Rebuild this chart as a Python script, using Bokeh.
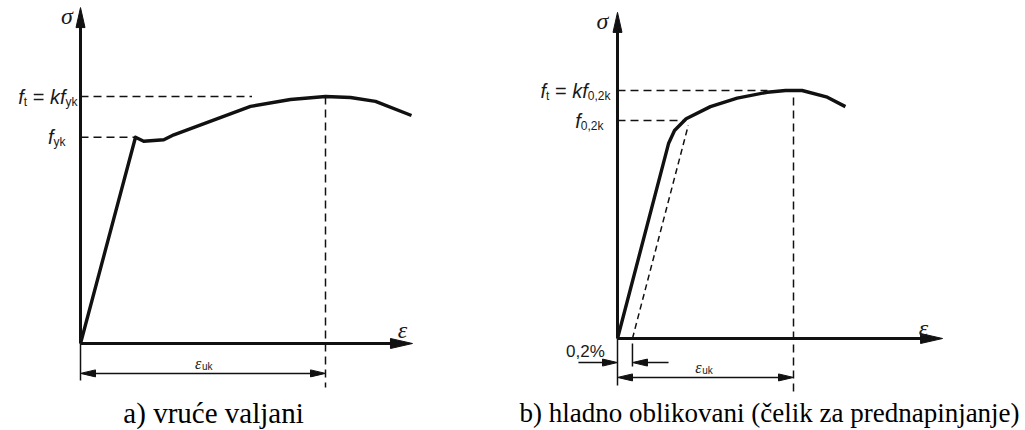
from bokeh.plotting import figure
from bokeh.layouts import row
from bokeh.models import Range1d
from bokeh.core.properties import value
from bokeh.embed import file_html
from bokeh.resources import INLINE

# ---------------- data (schematic, normalised: eps_uk = 1, f_t = 1) ----------------
# a) hot rolled steel
a_strain = [0.0, 0.2245, 0.258, 0.340, 0.381, 0.694, 0.857, 1.0, 1.102, 1.204, 1.351]
a_stress = [0.0, 0.835, 0.819, 0.825, 0.845, 0.960, 0.988, 1.0, 0.996, 0.980, 0.923]
a_fyk = 0.835
a_ft = 1.0
a_euk = 1.0

# b) cold worked steel
b_strain = [0.0, 0.290, 0.324, 0.390, 0.528, 0.680, 0.851, 0.955, 1.049, 1.192, 1.295]
b_stress = [0.0, 0.786, 0.839, 0.886, 0.935, 0.969, 0.993, 1.0, 1.0, 0.973, 0.935]
b_f02k = 0.879
b_ft = 1.0
b_euk = 1.0
b_offset = 0.085   # 0,2 % offset (schematic)

captions = ["a) vruće valjani", "b) hladno oblikovani (čelik za prednapinjanje)"]

# ---------------- styling helpers ----------------
INK = "#111111"
TXT = "#1a1a1a"
H = 430

ARIAL = {'f': .278, 't': .278, ' ': .278, '=': .584, 'k': .5, 'y': .5, '0': .556,
         ',': .278, '2': .556, '%': .889, 'u': .556}


def make_fig(w, xr, yr):
    p = figure(width=w, height=H, x_range=Range1d(*xr), y_range=Range1d(*yr),
               output_backend="svg", toolbar_location=None,
               x_axis_type=None, y_axis_type=None, min_border=0)
    p.min_border_left = p.min_border_right = p.min_border_top = p.min_border_bottom = 0
    p.grid.visible = False
    p.outline_line_color = None
    p.title.visible = False
    p.background_fill_color = "white"
    p.border_fill_color = "white"
    p._sx = w / (xr[1] - xr[0])
    p._sy = H / (yr[1] - yr[0])
    return p


def head(p, xt, yt, dx, dy, L, W):
    """filled arrow head; tip at data point, direction (dx, dy) in screen px (y up)."""
    n = (dx * dx + dy * dy) ** 0.5
    ux, uy = dx / n, dy / n
    px, py = -uy, ux
    bx, by = -ux * L, -uy * L
    xs = [xt, xt + (bx + px * W / 2) / p._sx, xt + (bx - px * W / 2) / p._sx]
    ys = [yt, yt + (by + py * W / 2) / p._sy, yt + (by - py * W / 2) / p._sy]
    p.patch(xs, ys, fill_color=INK, line_color=INK, line_width=1)


def arrow(p, x0, y0, x1, y1, L, W, lw, both=False):
    dxp = (x1 - x0) * p._sx
    dyp = (y1 - y0) * p._sy
    n = (dxp * dxp + dyp * dyp) ** 0.5
    sh = 0.5 * L / n
    xa = x0 + (x1 - x0) * (sh if both else 0)
    ya = y0 + (y1 - y0) * (sh if both else 0)
    xb = x1 - (x1 - x0) * sh
    yb = y1 - (y1 - y0) * sh
    p.line([xa, xb], [ya, yb], line_color=INK, line_width=lw)
    head(p, x1, y1, dxp, dyp, L, W)
    if both:
        head(p, x0, y0, -dxp, -dyp, L, W)


def rich(p, x, y, runs, end_px, main=20, sub=12):
    # runs: (text, italic, is_sub); spaces are turned into offsets
    sizes = [sub if s else main for _, _, s in runs]
    widths = [sum(ARIAL.get(c, .556) for c in t) * sz for (t, _, _), sz in zip(runs, sizes)]
    off = end_px - sum(widths)
    for (t, it, s), sz, w in zip(runs, sizes, widths):
        lead = (len(t) - len(t.lstrip(" "))) * ARIAL[' '] * sz
        p.text(x=[x], y=[y], text=[t.strip(" ")], x_offset=off + lead,
               y_offset=(5 if s else 0),
               text_font=value("Liberation Sans"), text_font_size=f"{sz}px",
               text_font_style="italic" if it else "normal",
               text_align="left", text_baseline="middle", text_color=TXT)
        off += w


def greek(p, x, y, t, sub=None, size=24, align="center"):
    p.text(x=[x], y=[y], text=[t], text_font=value("Liberation Serif"),
           text_font_size=f"{size}px", text_font_style="italic",
           text_align=align, text_baseline="middle", text_color=TXT)
    if sub:
        p.text(x=[x], y=[y], text=[sub], x_offset=size * 0.24, y_offset=3,
               text_font=value("Liberation Sans"), text_font_size=f"{int(size * 0.65)}px",
               text_align="left", text_baseline="middle", text_color=TXT)


def caption(p, x, y, t, size):
    p.text(x=[x], y=[y], text=[t], text_font=value("Liberation Serif"),
           text_font_size=f"{size}px", text_align="center", text_baseline="middle",
           text_color="#000000")


# ---------------- panel a ----------------
ox_a, oy_a, kx_a, ky_a = 80, 343, 245, 247   # picture px of origin & px per unit
pa = make_fig(513, ((0 - ox_a) / kx_a, (513 - ox_a) / kx_a),
              ((oy_a - H) / ky_a, (oy_a - 0) / ky_a))

pa.line([0, 0.70], [a_ft, a_ft], line_color=INK, line_width=1.5, line_dash="8 5")
pa.line([0, a_strain[1]], [a_fyk, a_fyk], line_color=INK, line_width=1.5, line_dash="8 5")
pa.line([a_euk, a_euk], [a_ft, -0.178], line_color=INK, line_width=1.5, line_dash="8 5")
pa.line(a_strain, a_stress, line_color=INK, line_width=3.4, line_join="round")
arrow(pa, 0, 0, 0, 1.360, 20, 9, 3)
arrow(pa, 0, 0, 1.355, 0, 22, 10, 3)
pa.line([0, 0], [0, -0.150], line_color=INK, line_width=1.5)
arrow(pa, 0, -0.121, a_euk, -0.121, 15, 7, 1.5, both=True)

greek(pa, -0.055, 1.325, "σ")
greek(pa, 1.314, 0.055, "ε")
greek(pa, 0.48, -0.081, "ε", "uk", size=16)
rich(pa, 0, a_ft, [("f", True, False), ("t", False, True), (" = ", False, False),
                   ("k", True, False), ("f", True, False), ("yk", False, True)], -3)
rich(pa, 0, a_fyk, [("f", True, False), ("yk", False, True)], -15)
caption(pa, 0.543, (oy_a - 412) / ky_a, captions[0], 29)

# ---------------- panel b ----------------
ox_b, oy_b, kx_b, ky_b = 617, 338, 176, 248
pb = make_fig(512, ((513 - ox_b) / kx_b, (1025 - ox_b) / kx_b),
              ((oy_b - H) / ky_b, (oy_b - 0) / ky_b))

slope = b_stress[1] / b_strain[1]
pb.line([b_offset, b_offset + 0.86 / slope], [0, 0.86], line_color=INK, line_width=1.5,
        line_dash="6 4")
pb.line([0, 0.852], [b_ft, b_ft], line_color=INK, line_width=1.5, line_dash="8 5")
pb.line([0, 0.39], [b_f02k, b_f02k], line_color=INK, line_width=1.5, line_dash="8 5")
pb.line([b_euk, b_euk], [0.972, -0.218], line_color=INK, line_width=1.5, line_dash="8 5")
pb.line(b_strain, b_stress, line_color=INK, line_width=3.4, line_join="round")
arrow(pb, 0, 0, 0, 1.315, 20, 9, 3)
arrow(pb, 0, 0, 1.847, 0, 22, 10, 3)
pb.line([0, 0], [0, -0.19], line_color=INK, line_width=1.5)
pb.line([b_offset, b_offset], [-0.02, -0.113], line_color=INK, line_width=1.5)
arrow(pb, 0, -0.157, b_euk, -0.157, 15, 7, 1.5, both=True)
arrow(pb, -0.222, -0.097, 0, -0.097, 15, 7, 1.5)
arrow(pb, 0.29, -0.097, b_offset, -0.097, 15, 7, 1.5)

greek(pb, -0.085, 1.28, "σ")
greek(pb, 1.739, 0.042, "ε")
greek(pb, 0.46, -0.117, "ε", "uk", size=16)
rich(pb, 0, b_ft, [("f", True, False), ("t", False, True), (" = ", False, False),
                   ("k", True, False), ("f", True, False), ("0,2k", False, True)], -7)
rich(pb, 0, b_f02k, [("f", True, False), ("0,2k", False, True)], -14)
pb.text(x=[-0.182], y=[-0.052], text=["0,2%"], text_font=value("Liberation Sans"),
        text_font_size="17px", text_align="center", text_baseline="middle", text_color=TXT)
caption(pb, 0.864, (oy_b - 412) / ky_b, captions[1], 27)

layout = row(pa, pb)
open("out.html", "w").write(file_html(layout, INLINE))
